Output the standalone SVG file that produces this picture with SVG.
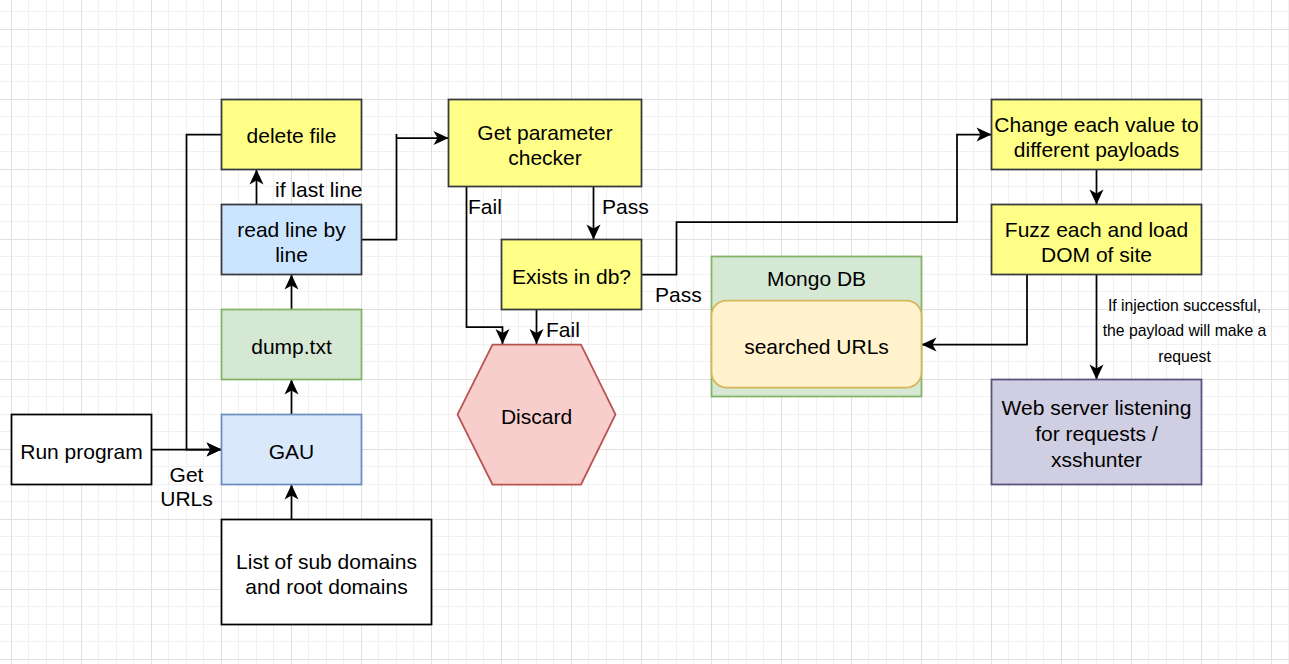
<svg xmlns="http://www.w3.org/2000/svg" width="1289" height="664" viewBox="0 0 1289 664">
<defs>
<pattern id="grid" width="70" height="70" patternUnits="userSpaceOnUse" x="11" y="29">
<rect width="70" height="70" fill="#ffffff"/>
<rect x="17" width="1" height="70" fill="#f1f1f1"/>
<rect x="35" width="1" height="70" fill="#f1f1f1"/>
<rect x="52" width="1" height="70" fill="#f1f1f1"/>
<rect y="17" width="70" height="1" fill="#f1f1f1"/>
<rect y="35" width="70" height="1" fill="#f1f1f1"/>
<rect y="52" width="70" height="1" fill="#f1f1f1"/>
<rect width="1" height="70" fill="#e0e0e0"/>
<rect width="70" height="1" fill="#e0e0e0"/>
</pattern>
<marker id="arr" markerUnits="userSpaceOnUse" markerWidth="16" markerHeight="16" viewBox="-16 -8 16 16" refX="0" refY="0" orient="auto">
<path d="M0,0 L-15,-7 L-11,0 L-15,7 Z" fill="#000"/>
</marker>
</defs>
<style>
text{font-family:"Liberation Sans",Arial,Helvetica,sans-serif;font-size:21px;fill:#000}
.c{text-anchor:middle}
.s{font-size:15.75px}
.e{fill:none;stroke:#000;stroke-width:1.75}
.a{marker-end:url(#arr)}
.n{stroke-width:1.75}
.y{fill:#ffff88;stroke:#36393d}
</style>
<rect width="1289" height="664" fill="url(#grid)"/>

<g id="connectors">
<path class="e a" d="M151.5,449.5 H221.5"/>
<path class="e a" d="M221.5,134.5 H186.5 V449.5 H221.5"/>
<path class="e a" d="M256.5,204.5 V169.5"/>
<path class="e a" d="M291.5,309.5 V274.5"/>
<path class="e a" d="M291.5,414.5 V379.5"/>
<path class="e a" d="M291.5,519.5 V484.5"/>
<path class="e a" d="M361.5,239.5 H396.5 V138 H448.5"/>
<path class="e" d="M396.5,138 V134"/>
<path class="e a" d="M593.5,186.5 V239.5"/>
<path class="e a" d="M466.5,186.5 V327 H502.5 V344"/>
<path class="e a" d="M536.5,309.5 V344"/>
<path class="e a" d="M641.5,274.5 H676.5 V222 H957 V134.5 H991.5"/>
<path class="e a" d="M1096.5,169.5 V204.5"/>
<path class="e a" d="M1027,274.5 V344.5 H921.5"/>
<path class="e a" d="M1096.5,274.5 V379.5"/>
<text class="c" x="186.5" y="481.5">Get</text>
<text class="c" x="186.5" y="506">URLs</text>
<text x="275" y="196.5">if last line</text>
<text x="468" y="213.5">Fail</text>
<text x="602" y="213.5">Pass</text>
<text x="546" y="336.5">Fail</text>
<text x="655" y="301.5">Pass</text>
<text class="c s" x="1184.5" y="310.5">If injection successful,</text>
<text class="c s" x="1184.5" y="336">the payload will make a</text>
<text class="c s" x="1184.5" y="361.5">request</text>
</g>

<g id="run-program">
<rect class="n" x="11.5" y="414.5" width="140" height="70" fill="#ffffff" stroke="#000"/>
<text class="c" x="81.5" y="458.5">Run program</text>
</g>
<g id="gau">
<rect class="n" x="221.5" y="414.5" width="140" height="70" fill="#dae8fc" stroke="#6c8ebf"/>
<text class="c" x="291.5" y="458.5">GAU</text>
</g>
<g id="domain-list">
<rect class="n" x="221.5" y="519.5" width="210" height="105" fill="#ffffff" stroke="#000"/>
<text class="c" x="326.5" y="568.5">List of sub domains</text>
<text class="c" x="326.5" y="593.5">and root domains</text>
</g>
<g id="dump-txt">
<rect class="n" x="221.5" y="309.5" width="140" height="70" fill="#d5e8d4" stroke="#82b366"/>
<text class="c" x="291.5" y="353.5">dump.txt</text>
</g>
<g id="read-line">
<rect class="n" x="221.5" y="204.5" width="140" height="70" fill="#cce5ff" stroke="#36393d"/>
<text class="c" x="291.5" y="236.5">read line by</text>
<text class="c" x="291.5" y="261.5">line</text>
</g>
<g id="delete-file">
<rect class="n y" x="221.5" y="99.5" width="140" height="70"/>
<text class="c" x="291.5" y="143">delete file</text>
</g>
<g id="param-checker">
<rect class="n y" x="448.5" y="99.5" width="193" height="87"/>
<text class="c" x="545" y="140">Get parameter</text>
<text class="c" x="545" y="164.5">checker</text>
</g>
<g id="exists-db">
<rect class="n y" x="501.5" y="239.5" width="140" height="70"/>
<text class="c" x="571.5" y="283.5">Exists in db?</text>
</g>
<g id="discard">
<polygon class="n" points="492.5,344.5 581,344.5 615.5,414.5 581,484.5 492.5,484.5 457.5,414.5" fill="#f8cecc" stroke="#b85450"/>
<text class="c" x="536.5" y="423.5">Discard</text>
</g>
<g id="mongo-db">
<rect class="n" x="711.5" y="256.5" width="210" height="140" fill="#d5e8d4" stroke="#82b366"/>
<text class="c" x="816.5" y="285.5">Mongo DB</text>
</g>
<g id="searched-urls">
<rect class="n" x="711.5" y="300.5" width="210" height="87" rx="15" ry="15" fill="#fff2cc" stroke="#d6b656"/>
<text class="c" x="816.5" y="353.5">searched URLs</text>
</g>
<g id="change-value">
<rect class="n y" x="991.5" y="99.5" width="210" height="70"/>
<text class="c" x="1096.5" y="131.5">Change each value to</text>
<text class="c" x="1096.5" y="156.5">different payloads</text>
</g>
<g id="fuzz">
<rect class="n y" x="991.5" y="204.5" width="210" height="70"/>
<text class="c" x="1096.5" y="236.5">Fuzz each and load</text>
<text class="c" x="1096.5" y="261.5">DOM of site</text>
</g>
<g id="web-server">
<rect class="n" x="991.5" y="379.5" width="210" height="105" fill="#d0cee2" stroke="#56517e"/>
<text class="c" x="1096.5" y="415">Web server listening</text>
<text class="c" x="1096.5" y="441">for requests /</text>
<text class="c" x="1096.5" y="466.5">xsshunter</text>
</g>
</svg>
